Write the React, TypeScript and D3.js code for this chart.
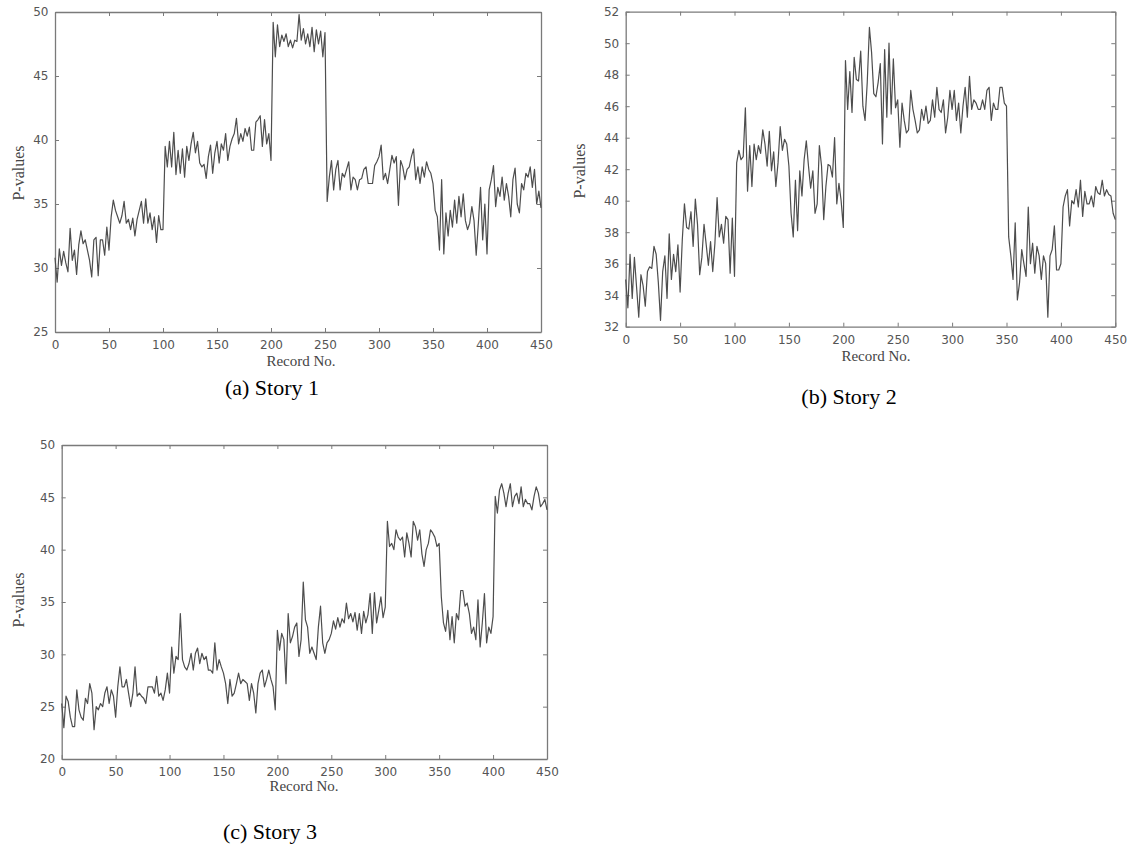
import React, { useRef, useEffect } from 'react';
import * as d3 from 'd3';

// Record numbers sampled every 2 records (0..450)
const records = d3.range(0, 451, 2);
const xTicks = [0, 50, 100, 150, 200, 250, 300, 350, 400, 450];

const yTicksStory1 = [25, 30, 35, 40, 45, 50];
const yTicksStory2 = [32, 34, 36, 38, 40, 42, 44, 46, 48, 50, 52];
const yTicksStory3 = [20, 25, 30, 35, 40, 45, 50];

// P-values, one value per 2 records
const story1 = [
  30.8, 28.9, 31.5, 30.2, 31.3, 30.4, 29.7, 33.1, 30.6, 31.4, 29.5, 31.8, 32.9, 31.9, 32.2, 31.4, 30.6, 29.3, 32.2, 32.4, 29.4, 32.2, 32.2, 31.0, 33.2,
  31.4, 34.0, 35.3, 34.5, 34.0, 33.5, 34.1, 35.2, 33.5, 33.8, 33.0, 33.9, 32.5, 33.8, 34.5, 35.2, 33.5, 35.4, 33.5, 34.3, 33.0, 34.0, 32.0, 34.1, 33.0,
  33.0, 39.5, 37.9, 39.9, 37.9, 40.6, 37.3, 39.2, 37.4, 39.3, 37.1, 39.5, 38.4, 39.7, 40.6, 39.0, 39.9, 38.2, 37.9, 38.1, 37.0, 38.7, 39.6, 37.4, 39.0,
  39.9, 38.2, 39.7, 39.2, 40.5, 38.4, 39.5, 40.1, 40.5, 41.7, 39.7, 40.5, 39.9, 40.9, 40.3, 41.0, 39.2, 39.2, 41.4, 41.6, 41.9, 39.5, 41.6, 39.7, 40.5,
  38.4, 49.2, 46.5, 49.0, 47.3, 48.2, 47.7, 48.3, 47.3, 47.8, 47.2, 47.8, 47.7, 49.8, 47.8, 48.7, 47.5, 48.3, 47.3, 48.8, 46.9, 48.6, 47.5, 48.5, 46.5,
  48.4, 35.2, 37.1, 38.4, 36.1, 37.7, 38.4, 36.1, 37.4, 37.1, 37.7, 38.3, 36.1, 37.1, 36.9, 36.1, 36.9, 37.0, 37.7, 37.9, 36.6, 36.6, 36.6, 38.0, 38.3,
  38.7, 39.6, 36.9, 37.4, 36.6, 37.7, 38.8, 38.2, 38.7, 34.9, 38.4, 37.9, 36.9, 37.7, 37.9, 38.7, 39.3, 36.9, 37.9, 36.6, 37.9, 37.1, 38.3, 37.7, 37.4,
  36.6, 34.5, 34.0, 31.4, 36.9, 31.1, 34.3, 32.5, 34.5, 33.2, 35.3, 33.5, 35.6, 34.0, 35.8, 33.7, 33.0, 33.5, 34.8, 33.7, 31.0, 33.5, 36.3, 32.2, 35.0,
  31.1, 36.1, 36.9, 38.0, 34.8, 36.3, 35.6, 37.1, 35.3, 36.6, 35.6, 34.0, 36.9, 37.8, 35.0, 34.3, 36.6, 36.1, 37.4, 37.1, 37.9, 36.3, 37.7, 35.0, 36.0,
  34.7,
];

const story2 = [
  35.0, 33.2, 36.6, 33.8, 36.4, 34.5, 32.6, 35.3, 34.6, 33.3, 35.5, 35.8, 35.7, 37.1, 36.6, 34.8, 32.4, 35.5, 36.5, 33.8, 37.9, 35.0, 36.6, 35.5, 37.2,
  34.2, 37.5, 39.8, 38.3, 38.2, 39.3, 37.1, 40.1, 38.5, 35.3, 36.4, 38.5, 37.2, 35.9, 37.4, 35.5, 37.3, 40.2, 37.7, 38.5, 37.3, 39.0, 38.8, 35.4, 38.9,
  35.2, 42.4, 43.2, 42.6, 42.8, 45.9, 40.6, 43.5, 40.9, 43.6, 42.6, 43.5, 43.0, 44.5, 43.6, 42.2, 44.4, 41.9, 43.1, 40.9, 42.4, 44.7, 43.2, 43.9, 43.6,
  42.2, 39.2, 37.7, 41.3, 38.1, 41.9, 40.3, 42.6, 43.8, 42.2, 40.8, 41.9, 39.2, 39.8, 43.5, 42.2, 38.8, 40.9, 42.3, 42.2, 41.5, 44.0, 39.8, 41.1, 40.0,
  38.3, 48.9, 45.8, 48.2, 45.6, 49.1, 47.7, 47.6, 49.5, 46.0, 45.1, 47.5, 51.0, 49.4, 46.8, 46.6, 47.5, 48.7, 43.6, 49.6, 45.3, 50.0, 45.5, 49.0, 45.9,
  46.4, 43.4, 46.2, 45.1, 44.3, 44.5, 47.0, 45.8, 45.1, 44.3, 44.5, 45.8, 45.1, 46.0, 44.9, 45.1, 46.4, 45.3, 47.2, 45.8, 45.6, 46.4, 44.3, 45.3, 47.0,
  45.8, 47.0, 45.1, 46.2, 44.3, 46.0, 47.2, 45.3, 47.9, 45.8, 46.4, 46.2, 45.8, 45.8, 46.4, 45.8, 47.0, 47.2, 45.1, 46.2, 45.8, 45.8, 47.2, 47.2, 46.2,
  46.0, 37.7, 36.5, 35.0, 38.6, 33.7, 34.8, 36.9, 36.0, 35.2, 39.6, 36.0, 37.3, 35.4, 37.1, 36.5, 35.0, 36.5, 36.0, 32.6, 36.5, 36.9, 38.4, 35.6, 35.6,
  36.0, 39.6, 40.3, 40.7, 38.4, 40.0, 39.8, 40.7, 39.6, 41.3, 39.0, 40.6, 39.8, 39.8, 40.3, 39.6, 40.9, 40.5, 40.4, 41.3, 40.3, 40.7, 40.4, 40.3, 39.2,
  38.8,
];

const story3 = [
  25.3, 23.0, 26.0, 25.5, 24.0, 23.1, 23.1, 26.6, 24.7, 24.0, 23.7, 25.8, 25.3, 27.2, 26.3, 22.8, 25.0, 24.7, 25.3, 25.0, 26.3, 26.9, 25.3, 26.6, 26.0,
  24.0, 26.9, 28.8, 26.9, 26.9, 27.6, 26.3, 25.0, 26.3, 28.8, 26.0, 26.3, 26.0, 25.8, 25.3, 26.9, 26.9, 26.9, 26.3, 27.9, 26.0, 26.3, 25.6, 26.6, 28.2,
  26.3, 30.7, 28.2, 29.8, 29.5, 33.9, 29.5, 28.8, 28.5, 29.1, 30.1, 28.5, 30.1, 30.6, 29.1, 30.1, 29.5, 29.8, 28.5, 28.5, 28.2, 31.1, 28.5, 29.5, 28.8,
  28.2, 27.2, 25.3, 27.6, 26.0, 26.3, 27.2, 28.2, 27.2, 27.6, 27.4, 27.2, 25.6, 27.2, 26.3, 24.4, 27.2, 28.2, 28.5, 26.9, 27.6, 28.5, 27.6, 26.9, 24.7,
  32.3, 30.4, 32.0, 31.4, 27.2, 33.9, 31.1, 31.7, 32.6, 33.0, 29.8, 31.4, 36.9, 33.3, 32.6, 30.1, 30.7, 30.1, 29.5, 32.6, 34.6, 31.1, 30.1, 31.1, 31.4,
  32.0, 33.2, 32.4, 33.5, 32.6, 33.4, 33.0, 34.9, 33.4, 33.9, 33.1, 34.0, 32.3, 33.9, 32.0, 34.1, 33.0, 33.8, 35.8, 32.0, 35.9, 33.0, 34.2, 35.5, 33.5,
  34.5, 42.7, 40.3, 40.6, 40.0, 41.9, 41.2, 40.9, 41.2, 39.3, 41.6, 40.6, 39.3, 42.7, 42.2, 40.9, 41.9, 39.6, 38.4, 40.0, 40.6, 41.9, 41.6, 41.2, 40.3,
  40.6, 35.5, 33.0, 32.2, 34.2, 31.4, 33.6, 31.1, 33.9, 33.3, 36.1, 36.1, 34.6, 34.9, 33.9, 32.0, 32.6, 31.4, 35.2, 30.7, 33.0, 35.8, 31.1, 32.6, 32.0,
  33.6, 45.1, 43.5, 45.7, 46.3, 45.4, 44.1, 45.4, 46.3, 44.1, 45.1, 45.4, 44.4, 46.0, 44.1, 44.8, 44.4, 44.4, 43.8, 45.1, 46.0, 45.4, 44.1, 44.4, 44.8,
  43.8,
];

const panels = [
  {
    values: story1, yTicks: yTicksStory1, caption: '(a) Story 1',
    left: 55, right: 541, top: 12, bottom: 332,
    yLabelX: 18, yLabelY: 173, xTitleX: 301, xTitleY: 366, capX: 272, capY: 395,
  },
  {
    values: story2, yTicks: yTicksStory2, caption: '(b) Story 2',
    left: 625.7, right: 1115.3, top: 11.7, bottom: 326.7,
    yLabelX: 579, yLabelY: 171, xTitleX: 876, xTitleY: 361, capX: 849, capY: 404,
  },
  {
    values: story3, yTicks: yTicksStory3, caption: '(c) Story 3',
    left: 61.7, right: 547, top: 445, bottom: 759,
    yLabelX: 18.5, yLabelY: 600, xTitleX: 304, xTitleY: 791, capX: 270, capY: 839,
  },
];

const AXIS_COLOR = '#7a7a7a';
const LABEL_COLOR = '#555';
const LINE_COLOR = '#4d4d4d';

export default function App() {
  const svgRef = useRef(null);

  useEffect(() => {
    const svg = d3.select(svgRef.current);
    svg.selectAll('*').remove();

    panels.forEach(p => {
      const yDomain = d3.extent(p.yTicks);
      const x = d3.scaleLinear().domain([0, 450]).range([p.left, p.right]);
      const y = d3.scaleLinear().domain(yDomain).range([p.bottom, p.top]);
      const g = svg.append('g');

      const styleTicks = sel => sel.selectAll('.tick text')
        .attr('font-size', 12)
        .attr('font-family', 'DejaVu Sans, sans-serif')
        .attr('fill', LABEL_COLOR);

      // bottom axis with labels
      g.append('g')
        .attr('transform', `translate(0,${p.bottom})`)
        .attr('color', AXIS_COLOR)
        .call(d3.axisBottom(x).tickValues(xTicks).tickSizeInner(-4).tickSizeOuter(0).tickPadding(8.5))
        .call(styleTicks);

      // left axis with labels
      g.append('g')
        .attr('transform', `translate(${p.left},0)`)
        .attr('color', AXIS_COLOR)
        .call(d3.axisLeft(y).tickValues(p.yTicks).tickSizeInner(-4).tickSizeOuter(0).tickPadding(6.5))
        .call(styleTicks);

      // mirrored top / right axes, ticks only
      g.append('g')
        .attr('transform', `translate(0,${p.top})`)
        .attr('color', AXIS_COLOR)
        .call(d3.axisTop(x).tickValues(xTicks).tickSizeInner(-4).tickSizeOuter(0).tickFormat(() => ''));

      g.append('g')
        .attr('transform', `translate(${p.right},0)`)
        .attr('color', AXIS_COLOR)
        .call(d3.axisRight(y).tickValues(p.yTicks).tickSizeInner(-4).tickSizeOuter(0).tickFormat(() => ''));

      g.selectAll('.domain').attr('stroke-width', 1.3);

      // the series
      const line = d3.line()
        .x((d, i) => x(records[i]))
        .y(d => y(d));

      g.append('path')
        .datum(p.values)
        .attr('fill', 'none')
        .attr('stroke', LINE_COLOR)
        .attr('stroke-width', 1.2)
        .attr('stroke-linejoin', 'round')
        .attr('d', line);

      // axis titles
      g.append('text')
        .attr('x', p.xTitleX)
        .attr('y', p.xTitleY)
        .attr('text-anchor', 'middle')
        .attr('font-size', 15)
        .attr('font-family', 'Liberation Serif, serif')
        .attr('fill', '#444')
        .text('Record No.');

      g.append('text')
        .attr('transform', `translate(${p.yLabelX},${p.yLabelY}) rotate(-90)`)
        .attr('text-anchor', 'middle')
        .attr('dy', '0.35em')
        .attr('font-size', 16)
        .attr('font-family', 'Liberation Serif, serif')
        .attr('fill', '#444')
        .text('P-values');

      // caption
      g.append('text')
        .attr('x', p.capX)
        .attr('y', p.capY)
        .attr('text-anchor', 'middle')
        .attr('font-size', 22)
        .attr('font-family', 'Liberation Serif, serif')
        .attr('fill', '#000')
        .text(p.caption);
    });
  }, []);

  return (
    <svg
      ref={svgRef}
      width={1129}
      height={846}
      style={{ position: 'absolute', left: 0, top: 0, background: '#fff' }}
    />
  );
}
